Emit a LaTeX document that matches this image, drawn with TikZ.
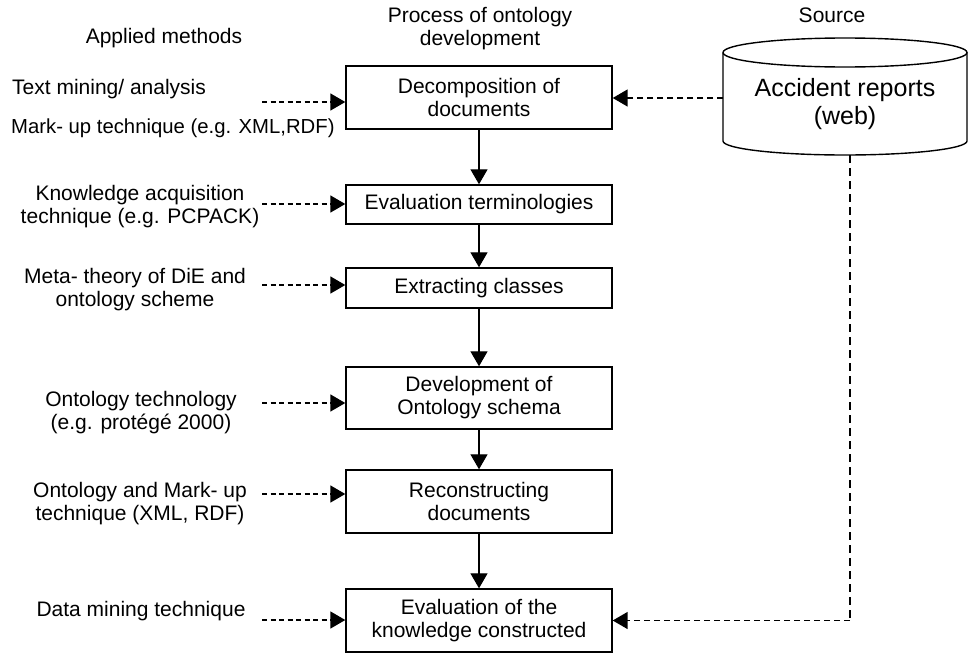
\documentclass[tikz,border=0pt]{standalone}
\usepackage{fontspec}
\setmainfont{Liberation Sans}
\usetikzlibrary{arrows.meta}

\begin{document}
\begin{tikzpicture}[x=1pt, y=-1pt,
  every node/.style={font=\fontsize{21}{23}\selectfont, align=center, inner sep=0pt},
  stage/.style={draw, line width=1.4pt, minimum width=266pt},
  tip/.style={-{Triangle[length=15pt,width=17pt]}},
  flow/.style={tip, line width=1.3pt},
  feed/.style={tip, line width=1.6pt, dash pattern=on 5pt off 3.5pt},
  srcfeed/.style={tip, line width=1.6pt, dash pattern=on 6.5pt off 3.5pt},
  srcline/.style={line width=1.1pt, dash pattern=on 8pt off 5pt},
  cyl/.style={line width=1.4pt}]

\useasboundingbox (0,0) rectangle (968,653);

% column headings
\node (hmeth) at (164,38) {Applied methods};
\node (hproc) at (480,28.5) {Process of ontology\\development};
\node (hsrc)  at (832,15) {Source};

% process stages
\node[stage, minimum height=63pt] (dec) at (479,97.5)  {Decomposition of\\documents};
\node[stage, minimum height=39pt] (ter) at (479,204.5) {Evaluation terminologies};
\node[stage, minimum height=40pt] (ext) at (479,288)   {Extracting classes};
\node[stage, minimum height=62pt] (dev) at (479,398)   {Development of\\Ontology schema};
\node[stage, minimum height=63pt] (rec) at (479,501.5) {Reconstructing\\documents};
\node[stage, minimum height=63pt] (evk) at (479,620.5) {Evaluation of the\\knowledge constructed};

\foreach \a/\b in {dec/ter, ter/ext, ext/dev, dev/rec, rec/evk}
  \draw[flow] (\a) -- (\b);

% source database
\draw[cyl] (845,52.5) ellipse [x radius=122pt, y radius=14.5pt];
\draw[cyl] (723,52.5) -- (723,141)
  arc[start angle=180, end angle=360, x radius=122pt, y radius=14pt]
  -- (967,52.5);
\node[font=\fontsize{25}{28}\selectfont] (src) at (845,104) {Accident reports\\(web)};
\coordinate (srcL) at (723,98);
\coordinate (srcB) at (850,155);

\draw[srcfeed] (srcL) -- (srcL -| dec.east);
\draw[srcline] (srcB) -- (srcB |- evk.east) coordinate (srcC);
\draw[srcfeed] (srcC) -- (evk.east);

% applied methods
\node[anchor=west] (m1a) at (12,89)  {Text mining/ analysis};
\node[anchor=west, font=\fontsize{20.3}{23}\selectfont] (m1b) at (11,128) {Mark- up technique (e.g. XML,RDF)};
\node (m2) at (140,207)   {Knowledge acquisition\\technique (e.g. PCPACK)};
\node (m3) at (135,289.5) {Meta- theory of DiE and\\ontology scheme};
\node (m4) at (141,412.5) {Ontology technology\\(e.g. protégé 2000)};
\node (m5) at (140,503.5) {Ontology and Mark- up\\technique (XML, RDF)};
\node (m6) at (141,611)   {Data mining technique};

\coordinate (a1) at (262,102);
\coordinate (a2) at (262,204);
\coordinate (a3) at (262,285);
\coordinate (a4) at (262,403);
\coordinate (a5) at (262,494);
\coordinate (a6) at (262,620);

\draw[feed] (a1) -- (a1 -| dec.west);
\draw[feed] (a2) -- (a2 -| ter.west);
\draw[feed] (a3) -- (a3 -| ext.west);
\draw[feed] (a4) -- (a4 -| dev.west);
\draw[feed] (a5) -- (a5 -| rec.west);
\draw[feed] (a6) -- (a6 -| evk.west);

\end{tikzpicture}
\end{document}
